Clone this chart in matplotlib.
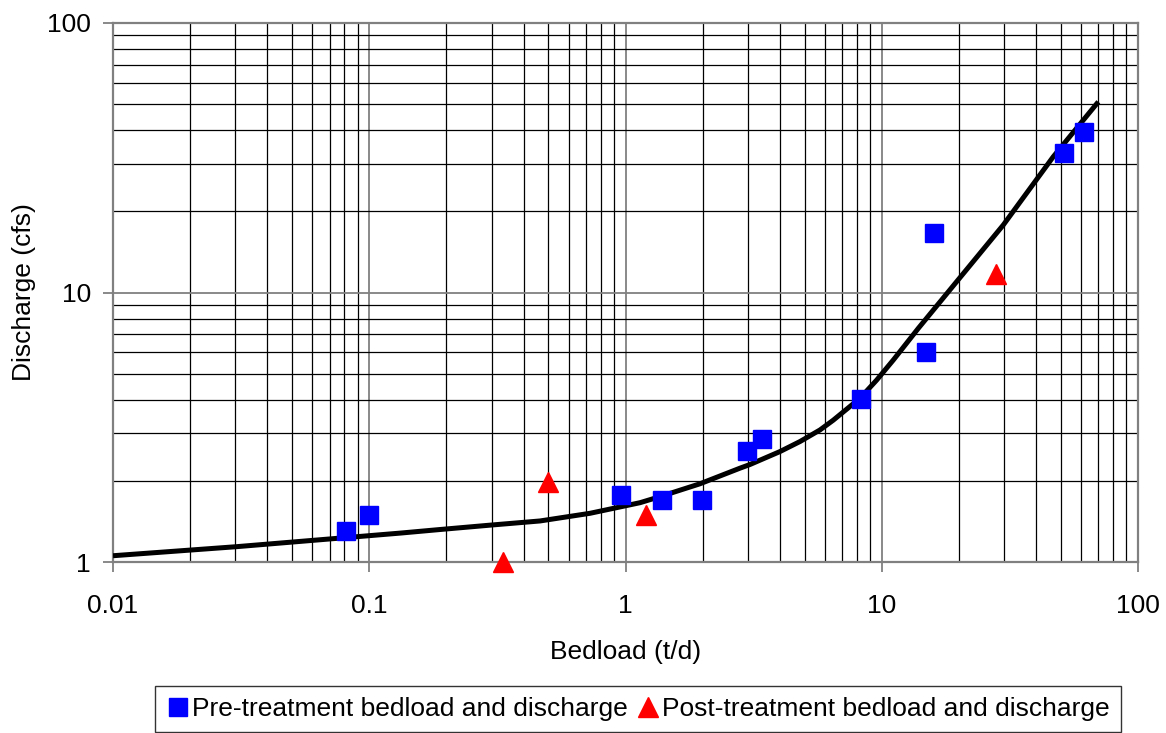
import matplotlib
matplotlib.use("Agg")
import matplotlib.pyplot as plt
from matplotlib.ticker import LogLocator, FixedLocator, NullFormatter, FixedFormatter
from matplotlib.lines import Line2D

plt.rcParams['font.family'] = ['Liberation Sans', 'DejaVu Sans']

# Pre-treatment data
pre_bedload = [0.081, 0.10, 0.96, 1.39, 1.99, 2.98, 3.41, 8.3, 14.9, 16.0, 51.4, 61.5]
pre_discharge = [1.30, 1.49, 1.77, 1.70, 1.70, 2.58, 2.86, 4.03, 6.03, 16.6, 32.9, 39.4]

# Post-treatment data
post_bedload = [0.333, 0.50, 1.20, 27.9]
post_discharge = [1.0, 1.98, 1.49, 11.7]

# Fitted curve
curve_bedload = [0.01, 0.0304, 0.132, 0.189, 0.296, 0.464, 0.727, 1.14, 1.36, 1.95,
                 2.80, 3.06, 4.01, 4.8, 5.74, 6.47, 8.22, 9.55, 11.1, 13.9, 19.6,
                 29.8, 46.7, 70]
curve_discharge = [1.055, 1.14, 1.28, 1.32, 1.37, 1.42, 1.516, 1.66, 1.747, 1.95,
                   2.23, 2.30, 2.57, 2.80, 3.09, 3.36, 4.05, 4.73, 5.62, 7.37, 10.97,
                   17.8, 31.9, 51.0]

x_ticks = [0.01, 0.1, 1, 10, 100]
x_ticklabels = ['0.01', '0.1', '1', '10', '100']
y_ticks = [1, 10, 100]
y_ticklabels = ['1', '10', '100']

FS = 19

fig = plt.figure(figsize=(11.66, 7.33), dpi=100)
ax = fig.add_axes([113/1166, 1-562/733, (1138-113)/1166, (562-23)/733])

ax.set_xscale('log')
ax.set_yscale('log')
ax.set_xlim(0.01, 100)
ax.set_ylim(1, 100)

# grid
ax.xaxis.set_major_locator(FixedLocator(x_ticks))
ax.xaxis.set_major_formatter(FixedFormatter(x_ticklabels))
ax.yaxis.set_major_locator(FixedLocator(y_ticks))
ax.yaxis.set_major_formatter(FixedFormatter(y_ticklabels))
ax.xaxis.set_minor_locator(LogLocator(base=10, subs=range(2, 10)))
ax.yaxis.set_minor_locator(LogLocator(base=10, subs=range(2, 10)))
ax.xaxis.set_minor_formatter(NullFormatter())
ax.yaxis.set_minor_formatter(NullFormatter())
ax.grid(which='major', color='#808080', linewidth=1.3)
ax.grid(which='minor', color='black', linewidth=0.9)
ax.set_axisbelow(True)
ax.tick_params(which='minor', length=0)
ax.tick_params(which='major', length=7, width=1.3, color='#808080', direction='out',
               labelsize=FS)
ax.tick_params(axis='x', which='major', pad=16)
ax.tick_params(axis='y', which='major', pad=9)
for s in ax.spines.values():
    s.set_color('#808080')
    s.set_linewidth(1.6)

ax.plot(curve_bedload, curve_discharge, color='black', linewidth=3.6, zorder=3,
        solid_capstyle='butt', solid_joinstyle='round')
ax.plot(pre_bedload, pre_discharge, linestyle='none', marker='s', markersize=13,
        color='#0000FF', markeredgecolor='#0000FF', zorder=4, clip_on=False)
ax.plot(post_bedload, post_discharge, linestyle='none', marker='^', markersize=14,
        color='#FF0000', markeredgecolor='#FF0000', zorder=4, clip_on=False)

ax.set_xlabel('Bedload (t/d)', fontsize=FS, labelpad=16)
ax.set_ylabel('Discharge (cfs)', fontsize=FS, labelpad=8)

handles = [Line2D([], [], linestyle='none', marker='s', markersize=13, color='#0000FF'),
           Line2D([], [], linestyle='none', marker='^', markersize=14, color='#FF0000')]
leg = fig.legend(handles, ['Pre-treatment bedload and discharge',
                           'Post-treatment bedload and discharge'],
                 loc='center', bbox_to_anchor=(638/1166, 1-709/733), ncol=2,
                 fontsize=FS, frameon=True, fancybox=False, handletextpad=0.1,
                 columnspacing=0.3, handlelength=0.9, borderpad=0.4,
                 borderaxespad=0)
leg.get_frame().set_edgecolor('black')
leg.get_frame().set_linewidth(1.0)

fig.savefig('out.png', dpi=100)
